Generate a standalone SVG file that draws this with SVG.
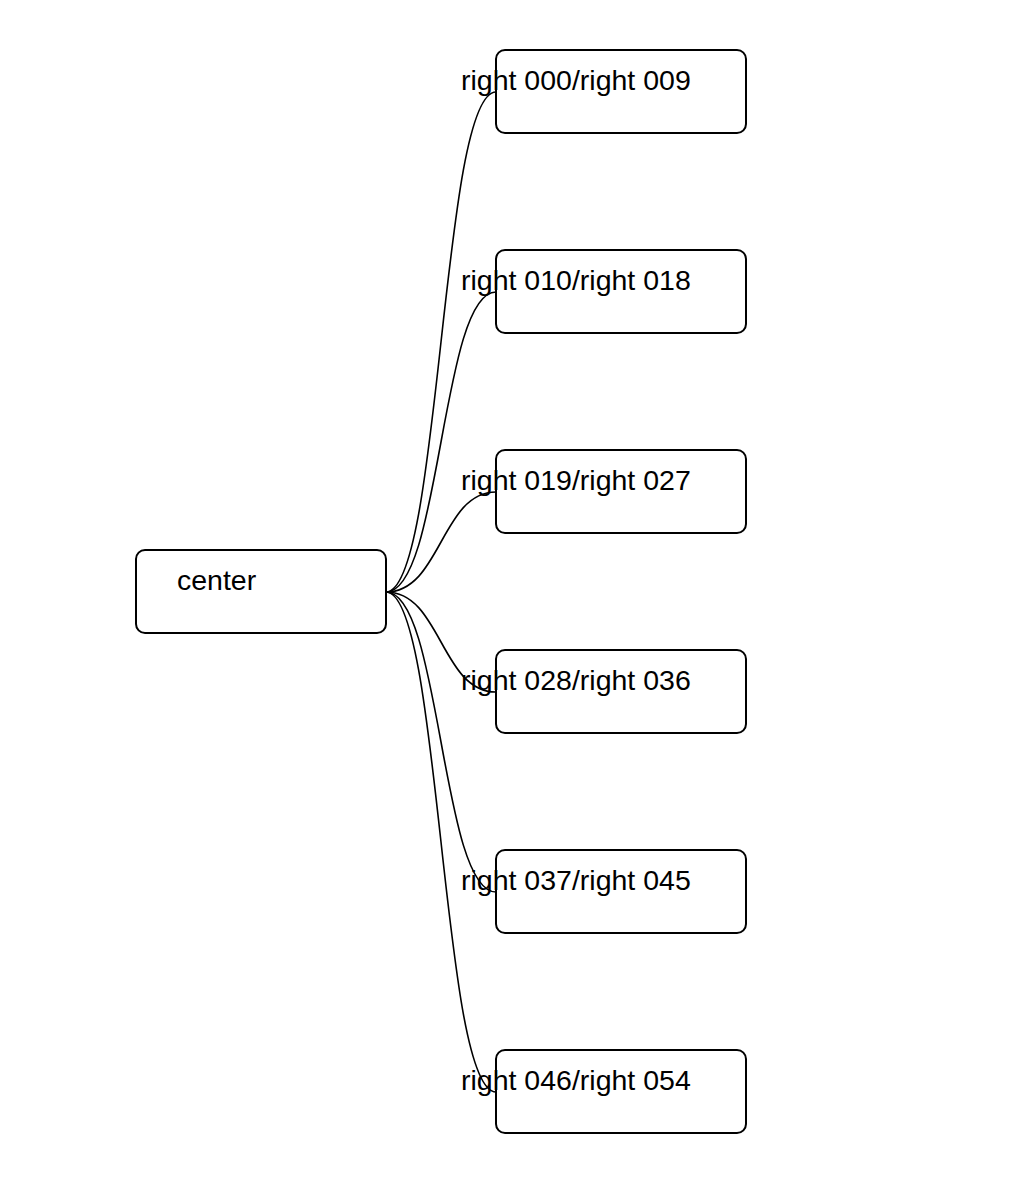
<svg xmlns="http://www.w3.org/2000/svg" width="1012" height="1198" viewBox="0 0 1012 1198">
<style>
.node rect{fill:#fff;stroke:#000;stroke-width:2}
.node text{font-family:"Liberation Sans",Arial,sans-serif;font-size:28.5px;fill:#000}
.edges path{fill:none;stroke:#000;stroke-width:1.6}
</style>
<rect width="1012" height="1198" fill="#fff"/>
<g id="center" class="node"><rect x="136" y="550" width="250" height="83" rx="9"/><text x="177" y="590">center</text></g>
<g id="r1" class="node"><rect x="496" y="50" width="250" height="83" rx="9"/></g>
<g id="r2" class="node"><rect x="496" y="250" width="250" height="83" rx="9"/></g>
<g id="r3" class="node"><rect x="496" y="450" width="250" height="83" rx="9"/></g>
<g id="r4" class="node"><rect x="496" y="650" width="250" height="83" rx="9"/></g>
<g id="r5" class="node"><rect x="496" y="850" width="250" height="83" rx="9"/></g>
<g id="r6" class="node"><rect x="496" y="1050" width="250" height="83" rx="9"/></g>
<g id="edges" class="edges">
<path d="M386,592 C441,592 441,92 496,92"/>
<path d="M386,592 C441,592 441,292 496,292"/>
<path d="M386,592 C441,592 441,492 496,492"/>
<path d="M386,592 C441,592 441,692 496,692"/>
<path d="M386,592 C441,592 441,892 496,892"/>
<path d="M386,592 C441,592 441,1092 496,1092"/>
</g>
<g class="node" id="labels">
<text x="461" y="90">right 000/right 009</text>
<text x="461" y="290">right 010/right 018</text>
<text x="461" y="490">right 019/right 027</text>
<text x="461" y="690">right 028/right 036</text>
<text x="461" y="890">right 037/right 045</text>
<text x="461" y="1090">right 046/right 054</text>
</g>
</svg>
